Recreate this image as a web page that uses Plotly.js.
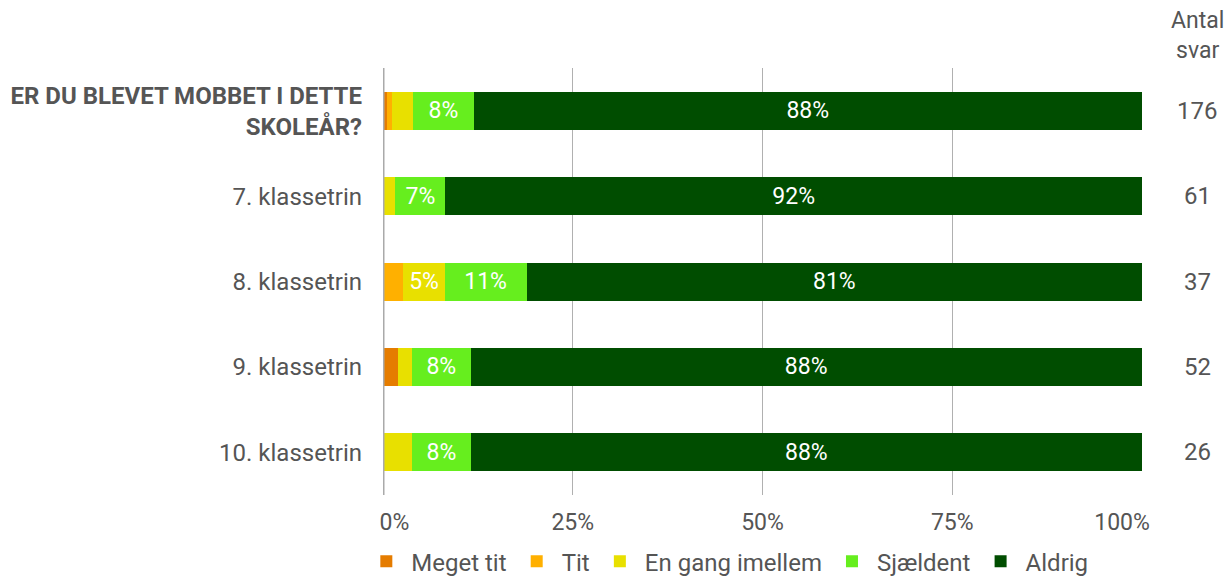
<!DOCTYPE html>
<html>
<head>
<meta charset="utf-8">
<script src="https://cdn.plot.ly/plotly-3.0.1.min.js"></script>
<style>html,body{margin:0;padding:0;background:#fff;}#chart{width:1229px;height:576px;}</style>
</head>
<body>
<div id="chart"></div>
<script>
const categories = ["<b>ER DU BLEVET MOBBET I DETTE</b><br><b>SKOLEÅR?</b>", "7. klassetrin", "8. klassetrin", "9. klassetrin", "10. klassetrin"];
const seriesNames = ["Meget tit", "Tit", "En gang imellem", "Sjældent", "Aldrig"];
const seriesColors = ["#E57C00", "#FFB000", "#E8E000", "#66EE1E", "#004D00"];
const megetTit = [0.57, 0, 0, 1.92, 0];
const tit = [0.57, 0, 2.70, 0, 0];
const enGangImellem = [2.84, 1.64, 5.41, 1.92, 3.85];
const sjaeldent = [7.95, 6.56, 10.81, 7.69, 7.69];
const aldrig = [88.07, 91.80, 81.08, 88.46, 88.46];
const antalSvar = [176, 61, 37, 52, 26];
const tickVals = [0, 25, 50, 75, 100];
const tickText = ["\u00a0\u00a0\u00a0\u00a00%", "25%", "50%", "75%", "100%\u00a0\u00a0\u00a0\u00a0\u00a0\u00a0\u00a0"];

const allSeries = [megetTit, tit, enGangImellem, sjaeldent, aldrig];
const traces = allSeries.map((vals, i) => ({
  type: 'bar',
  orientation: 'h',
  name: seriesNames[i],
  y: categories,
  x: vals,
  marker: {color: seriesColors[i], line: {width: 0}},
  text: vals.map(v => v >= 4.5 ? Math.round(v) + '%' : ''),
  textposition: 'inside',
  insidetextanchor: 'middle',
  textangle: 0,
  constraintext: 'none',
  textfont: {family: 'Roboto', size: 23, color: '#ffffff'},
  hoverinfo: 'skip'
}));

const annotations = antalSvar.map((n, i) => ({
  xref: 'paper', yref: 'y', x: 1.073, y: categories[i],
  text: String(n), showarrow: false, xanchor: 'center', yanchor: 'middle',
  font: {family: 'Roboto', size: 24, color: '#555555'}
}));
annotations.push({
  xref: 'paper', yref: 'paper', x: 1.073, y: 1.075,
  text: 'Antal<br>svar', showarrow: false, xanchor: 'center', yanchor: 'middle',
  font: {family: 'Roboto', size: 23, color: '#555555'}
});

const layout = {
  width: 1229, height: 576,
  margin: {l: 383, r: 87, t: 68, b: 81},
  barmode: 'stack',
  bargap: 0.555,
  paper_bgcolor: '#ffffff',
  plot_bgcolor: '#ffffff',
  font: {family: 'Roboto', color: '#555555', size: 24},
  xaxis: {
    range: [0, 100], tickvals: tickVals, ticktext: tickText,
    showgrid: true, gridcolor: '#b0b0b0', gridwidth: 1,
    zeroline: false, showline: false, ticks: '',
    tickfont: {family: 'Roboto', size: 23, color: '#555555'},
    ticklabelstandoff: 11, fixedrange: true, automargin: false
  },
  yaxis: {
    autorange: 'reversed', showgrid: false, zeroline: false,
    showline: false, ticks: '',
    tickfont: {family: 'Roboto', size: 24, color: '#555555'},
    ticklabelstandoff: 20, fixedrange: true, automargin: false
  },
  shapes: [{type: 'line', xref: 'x', yref: 'paper', x0: 0, x1: 0, y0: 0, y1: 1,
    line: {color: '#aaaaaa', width: 3}}],
  showlegend: true,
  legend: {orientation: 'h', xref: 'container', yref: 'container',
    x: 0.294, xanchor: 'left', y: 0.025, yanchor: 'middle',
    traceorder: 'normal', font: {family: 'Roboto', size: 24, color: '#555555'},
    itemwidth: 40, tracegroupgap: 0},
  annotations: annotations
};

Plotly.newPlot('chart', traces, layout, {displayModeBar: false, staticPlot: true});
</script>
</body>
</html>
